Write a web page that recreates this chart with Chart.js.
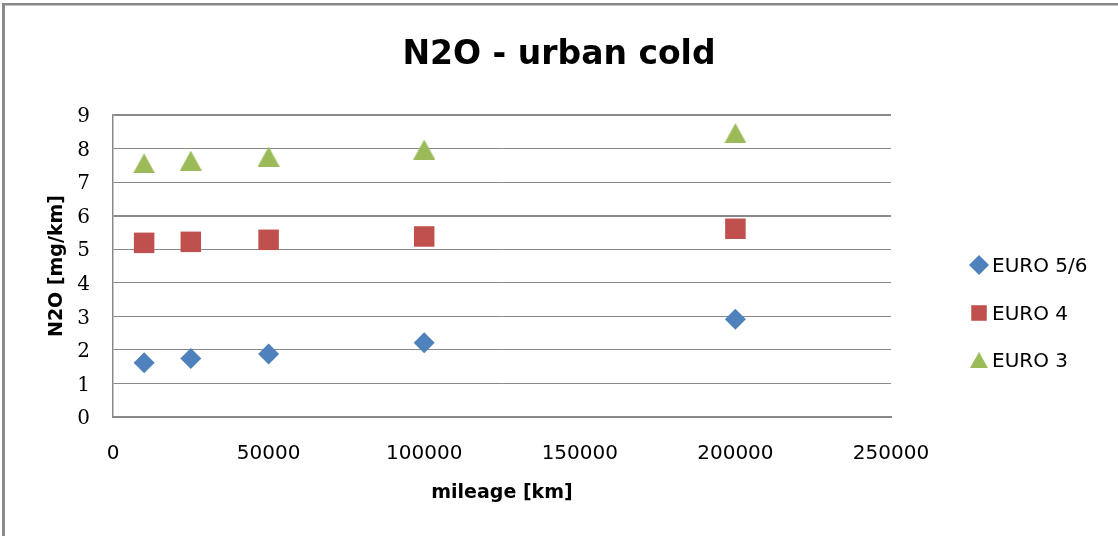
<!DOCTYPE html>
<html>
<head>
<meta charset="utf-8">
<title>N2O - urban cold</title>
<script src="https://cdn.jsdelivr.net/npm/chart.js@4.4.1/dist/chart.umd.min.js"></script>
<style>
  html, body { margin: 0; padding: 0; background: #ffffff; }
  #wrap { width: 1118px; height: 536px; }
</style>
</head>
<body>
<div id="wrap"><canvas id="chart" width="1118" height="536"></canvas></div>
<script>
// Mileage at which each vehicle class was measured (km)
const mileage = [10000, 25000, 50000, 100000, 200000];

// N2O emission factors, urban cold cycle (mg/km)
const euro56 = [1.62, 1.74, 1.88, 2.21, 2.91];
const euro4  = [5.19, 5.22, 5.28, 5.38, 5.61];
const euro3  = [7.56, 7.64, 7.76, 7.97, 8.46];

const seriesNames = ['EURO 5/6', 'EURO 4', 'EURO 3'];

// Axis tick values
const xTickValues = [0, 50000, 100000, 150000, 200000, 250000];
const yTickValues = [0, 1, 2, 3, 4, 5, 6, 7, 8, 9];

const GRID = '#898989';
const BLUE = '#4f81bd';
const RED = '#c0504d';
const GREEN = '#9bbb59';

// Triangle marker whose bounding box is centred on the data point
function triangleMarker(w, h, color) {
  const c = document.createElement('canvas');
  c.width = w; c.height = h;
  const g = c.getContext('2d');
  g.fillStyle = color;
  g.beginPath();
  g.moveTo(w / 2, 0);
  g.lineTo(w, h);
  g.lineTo(0, h);
  g.closePath();
  g.fill();
  return c;
}

function toPoints(values) {
  return values.map((v, i) => ({ x: mileage[i], y: v }));
}

const datasets = [
  { label: seriesNames[0], data: toPoints(euro56), pointStyle: 'rectRot', pointRadius: 10.5,
    backgroundColor: BLUE, borderColor: BLUE, pointBorderWidth: 0,
    legendStyle: 'rectRot', legendRadius: 10 },
  { label: seriesNames[1], data: toPoints(euro4), pointStyle: 'rect', pointRadius: 14.5,
    backgroundColor: RED, borderColor: RED, pointBorderWidth: 0,
    legendStyle: 'rect', legendRadius: 11 },
  { label: seriesNames[2], data: toPoints(euro3), pointStyle: triangleMarker(22, 20, GREEN), pointRadius: 11,
    backgroundColor: GREEN, borderColor: GREEN, pointBorderWidth: 0,
    legendStyle: triangleMarker(18, 16, GREEN), legendRadius: 9 }
];

// Sheet background and frame
const framePlugin = {
  id: 'frame',
  beforeDraw(chart) {
    const ctx = chart.ctx;
    ctx.save();
    ctx.fillStyle = '#ffffff';
    ctx.fillRect(0, 0, chart.width, chart.height);
    ctx.fillStyle = GRID;
    ctx.fillRect(2, 3, chart.width - 2, 2.5);
    ctx.fillRect(2, 3, 3, chart.height - 3);
    ctx.restore();
  }
};

// Legend column on the right, reserved as a layout box so the title stays centred on the sheet
const LEGEND_W = 227;
const sideLegendPlugin = {
  id: 'sideLegend',
  start(chart) {
    const box = {
      position: 'right', weight: 10, fullSize: false, options: {},
      width: 0, height: 0, top: 0, left: 0, right: 0, bottom: 0,
      isHorizontal() { return false; },
      update(maxWidth, maxHeight) { this.width = LEGEND_W; this.height = maxHeight; },
      draw() {
        const ctx = chart.ctx;
        const rows = [265, 313, 360];
        const markerX = 979;
        const textX = 992;
        ctx.save();
        chart.data.datasets.forEach((ds, i) => {
          const y = rows[i];
          ctx.fillStyle = ds.backgroundColor;
          ctx.strokeStyle = ds.borderColor;
          Chart.helpers.drawPoint(ctx, {
            pointStyle: ds.legendStyle, rotation: 0, radius: ds.legendRadius, borderWidth: 0
          }, markerX, y);
          ctx.fillStyle = '#000000';
          ctx.font = '20px "DejaVu Sans"';
          ctx.textAlign = 'left';
          ctx.textBaseline = 'middle';
          ctx.fillText(ds.label, textX, y + 1.5);
        });
        ctx.restore();
      }
    };
    chart.sideLegendBox = box;
    Chart.layouts.addBox(chart, box);
  },
  stop(chart) {
    if (chart.sideLegendBox) Chart.layouts.removeBox(chart, chart.sideLegendBox);
  }
};

new Chart(document.getElementById('chart'), {
  type: 'scatter',
  data: { datasets },
  plugins: [framePlugin, sideLegendPlugin],
  options: {
    responsive: false,
    animation: false,
    devicePixelRatio: 1,
    layout: { padding: 0 },
    plugins: {
      legend: { display: false },
      tooltip: { enabled: false },
      title: {
        display: true,
        text: 'N2O - urban cold',
        color: '#000000',
        font: { family: '"DejaVu Sans"', size: 33, weight: 'bold' },
        padding: { top: 36, bottom: 39.4 }
      }
    },
    scales: {
      x: {
        type: 'linear',
        min: 0, max: 250000,
        afterBuildTicks: (scale) => { scale.ticks = xTickValues.map(v => ({ value: v })); },
        afterFit: (scale) => { scale.height = 119; },
        grid: { display: false, drawTicks: false },
        border: { display: true, color: GRID, width: 2 },
        ticks: {
          color: '#000000',
          font: { family: '"DejaVu Sans"', size: 20 },
          padding: 25,
          maxRotation: 0,
          autoSkip: false,
          callback: (v) => String(v)
        },
        title: {
          display: true,
          text: 'mileage [km]',
          color: '#000000',
          font: { family: '"DejaVu Sans"', size: 19, weight: 'bold' },
          padding: { top: 0, bottom: 32 }
        }
      },
      y: {
        type: 'linear',
        min: 0, max: 9,
        afterBuildTicks: (scale) => { scale.ticks = yTickValues.map(v => ({ value: v })); },
        afterFit: (scale) => { scale.width = 113; },
        grid: {
          color: GRID,
          drawTicks: false,
          lineWidth: (c) => ([0, 6, 9].includes(c.tick && c.tick.value) ? 2 : 1)
        },
        border: { display: true, color: GRID, width: 1.5 },
        ticks: {
          color: '#000000',
          font: { family: '"DejaVu Serif"', size: 20 },
          padding: 23,
          labelOffset: 2,
          autoSkip: false
        },
        title: {
          display: true,
          text: 'N2O [mg/km]',
          color: '#000000',
          font: { family: '"DejaVu Sans"', size: 19, weight: 'bold' },
          padding: { top: 46, bottom: 0 }
        }
      }
    }
  }
});
</script>
</body>
</html>
